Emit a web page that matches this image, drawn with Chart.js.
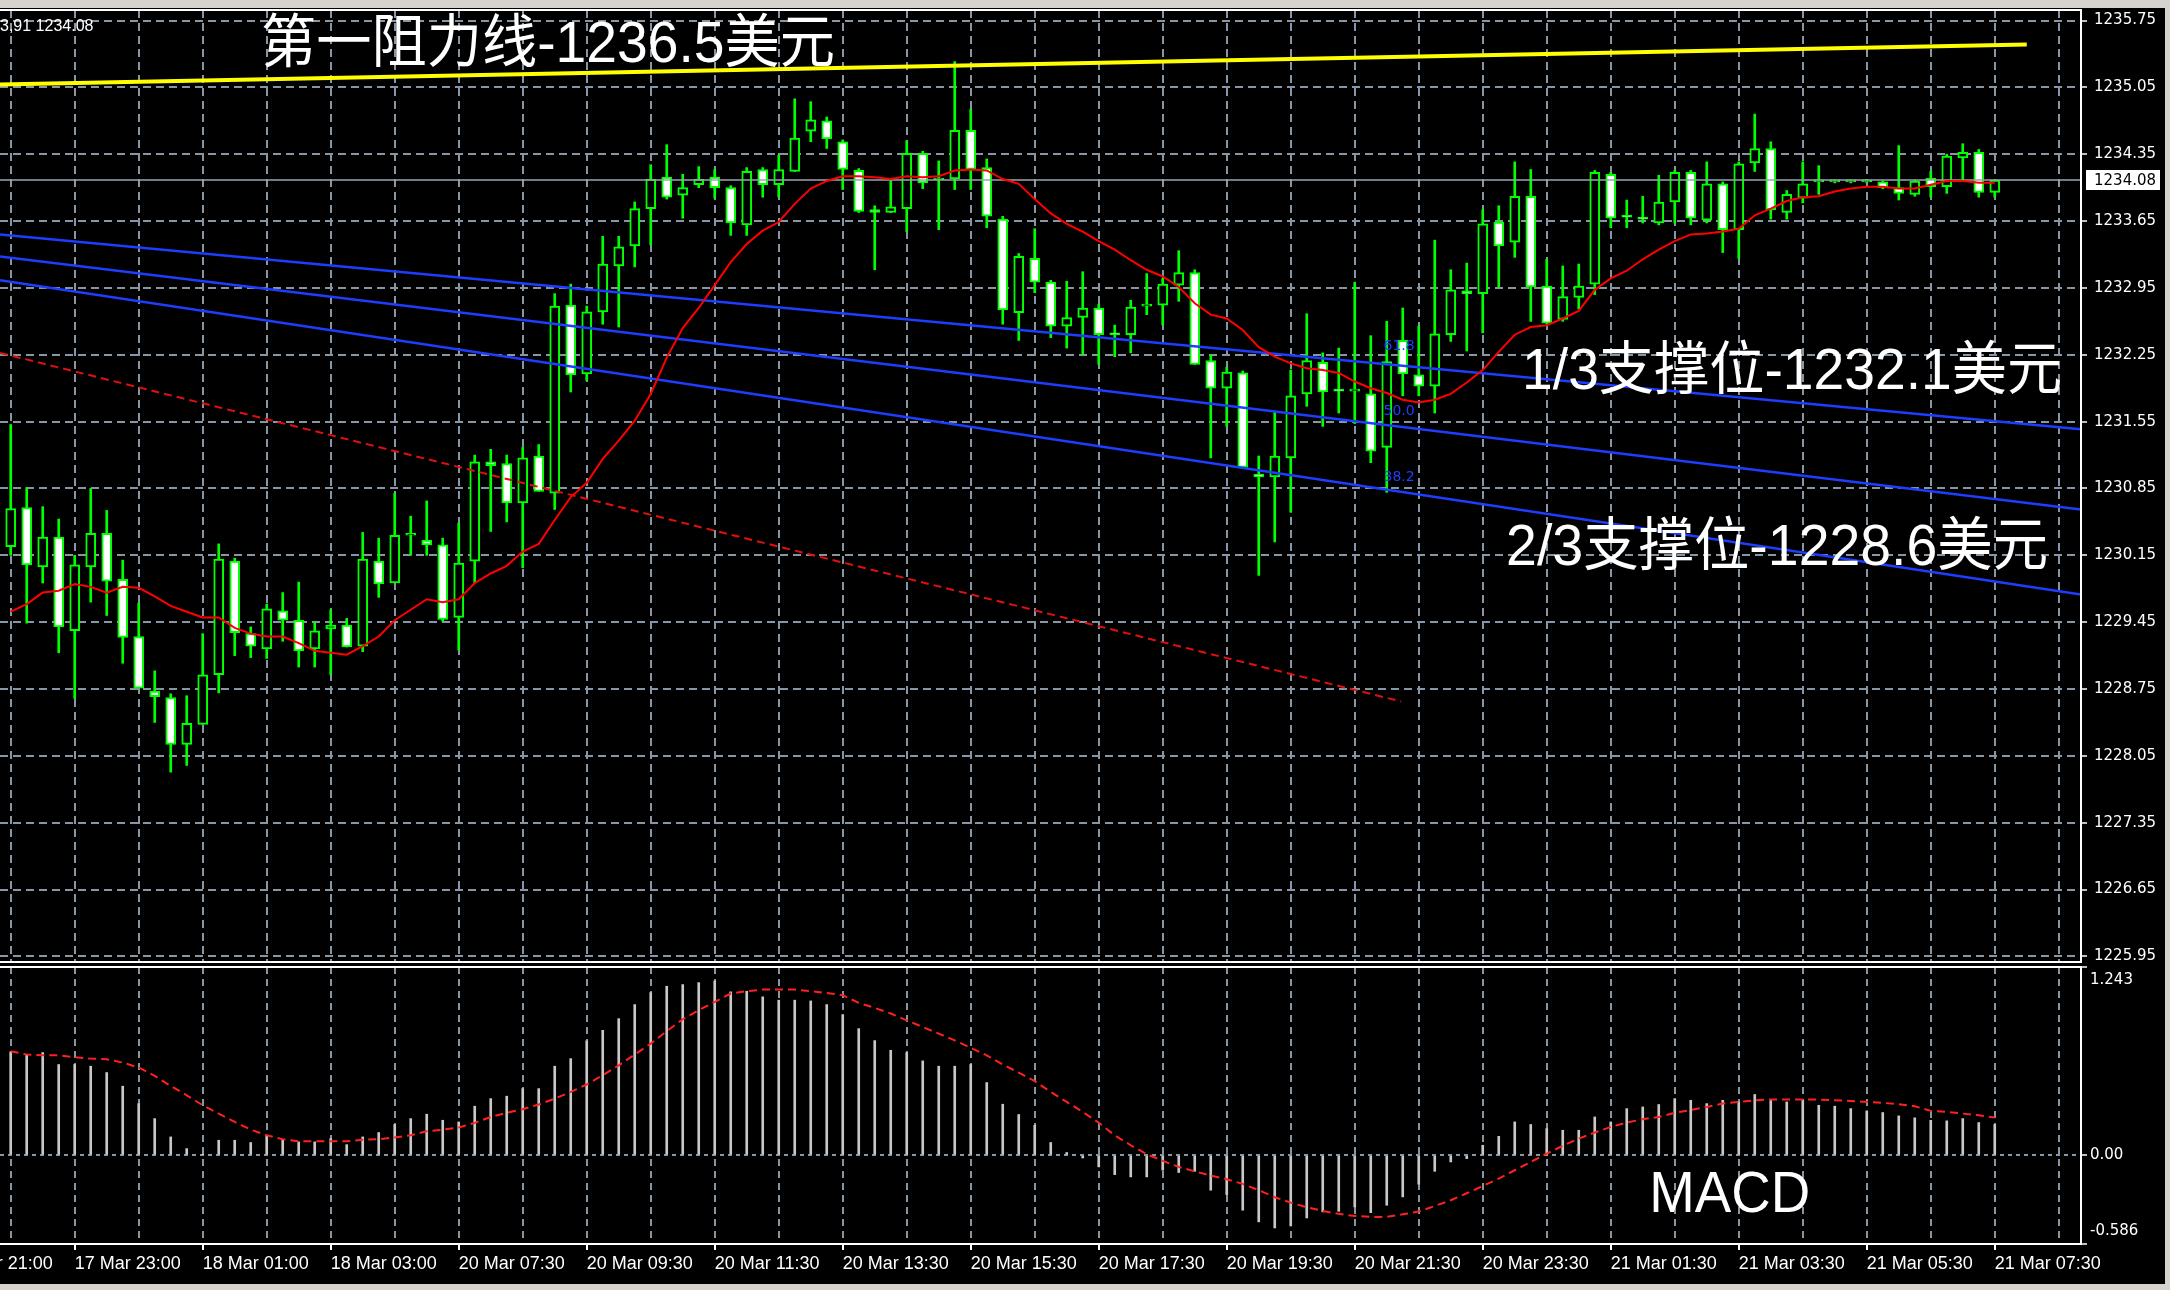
<!DOCTYPE html>
<html>
<head>
<meta charset="utf-8">
<script src="https://cdn.jsdelivr.net/npm/chart.js@4.4.1/dist/chart.umd.min.js"></script>
<style>
  body { margin: 0; background: #d6d3ce; width: 2170px; height: 1290px; overflow: hidden; position: relative; }
  #bg { position: absolute; left: 0; top: 8px; width: 2165px; height: 1276px; background: #000; }
  canvas { position: absolute; left: 0; }
  #priceChart { top: 0; }
  #macdChart { top: 962px; }
</style>
</head>
<body>
<div id="bg"></div>
<canvas id="priceChart" width="2170" height="966"></canvas>
<canvas id="macdChart" width="2170" height="328"></canvas>
<script>
// 15 min XAUUSD bars
var opens = [1230.24,1230.65,1230.03,1230.34,1229.36,1230.03,1230.38,1229.90,1229.30,1228.73,
  1228.66,1228.17,1228.38,1228.90,1230.09,1229.33,1229.17,1229.57,1229.47,1229.17,
  1229.38,1229.42,1229.20,1230.09,1229.86,1230.36,1230.31,1230.26,1229.50,1230.09,
  1231.13,1231.11,1230.70,1231.19,1230.80,1232.77,1232.05,1232.70,1233.18,1233.39,
  1233.78,1234.11,1233.92,1234.03,1234.11,1234.00,1233.61,1234.19,1234.03,1234.17,
  1234.59,1234.70,1234.48,1234.18,1233.77,1233.74,1233.78,1234.36,1234.08,1234.09,
  1234.60,1234.21,1233.67,1232.69,1233.26,1233.01,1232.55,1232.64,1232.74,1232.47,
  1232.46,1232.76,1232.77,1232.98,1233.11,1232.19,1231.90,1232.06,1231.00,1230.97,
  1231.17,1231.84,1232.17,1231.88,1231.87,1231.84,1231.28,1232.40,1232.04,1231.92,
  1232.46,1232.92,1232.89,1233.64,1233.43,1233.91,1232.97,1232.62,1232.85,1232.99,
  1234.14,1233.70,1233.68,1233.63,1233.85,1234.16,1233.66,1234.04,1233.56,1234.26,
  1234.41,1233.74,1233.89,1234.06,1234.06,1234.06,1234.06,1234.06,1234.00,1233.93,
  1234.10,1234.01,1234.31,1234.37,1233.95];
var highs = [1231.52,1230.86,1230.66,1230.53,1230.15,1230.85,1230.62,1230.10,1229.65,1228.94,
  1228.70,1228.68,1229.33,1230.27,1230.12,1229.40,1229.64,1229.76,1229.87,1229.45,
  1229.58,1229.49,1230.39,1230.33,1230.80,1230.56,1230.72,1230.33,1230.49,1231.20,
  1231.26,1231.20,1231.28,1231.31,1232.89,1232.99,1232.76,1233.49,1233.49,1233.85,
  1234.24,1234.45,1234.14,1234.22,1234.19,1234.02,1234.21,1234.21,1234.34,1234.93,
  1234.90,1234.74,1234.50,1234.20,1233.81,1234.07,1234.49,1234.38,1234.28,1235.32,
  1234.82,1234.30,1233.70,1233.31,1233.57,1233.03,1233.02,1233.12,1232.78,1232.56,
  1232.82,1233.10,1233.05,1233.34,1233.14,1232.25,1232.12,1232.08,1231.19,1231.66,
  1232.09,1232.68,1232.27,1232.32,1233.01,1232.45,1232.60,1232.74,1232.55,1233.45,
  1233.14,1233.21,1233.77,1233.81,1234.27,1234.19,1233.25,1233.18,1233.20,1234.18,
  1234.16,1233.87,1233.91,1234.13,1234.18,1234.18,1234.27,1234.06,1234.27,1234.77,
  1234.48,1233.97,1234.27,1234.23,1234.08,1234.08,1234.08,1234.07,1234.44,1234.08,
  1234.17,1234.35,1234.46,1234.40,1234.08];
var lows = [1230.15,1229.44,1229.86,1229.13,1228.65,1229.66,1229.52,1229.02,1228.76,1228.40,
  1227.88,1227.95,1228.38,1228.71,1229.10,1229.08,1229.07,1229.25,1228.98,1228.98,
  1228.90,1229.19,1229.14,1229.71,1229.86,1230.15,1230.15,1229.46,1229.16,1229.86,
  1230.40,1230.50,1230.02,1230.82,1230.63,1231.86,1231.98,1232.57,1232.54,1233.17,
  1233.40,1233.88,1233.68,1234.00,1233.89,1233.50,1233.50,1233.90,1233.90,1234.17,
  1234.48,1234.41,1233.98,1233.74,1233.14,1233.74,1233.54,1233.99,1233.56,1233.98,
  1233.98,1233.58,1232.57,1232.40,1232.90,1232.43,1232.32,1232.25,1232.15,1232.23,
  1232.27,1232.67,1232.56,1232.81,1232.15,1231.17,1231.50,1231.07,1229.94,1230.29,
  1230.60,1231.71,1231.50,1231.64,1231.53,1231.12,1230.81,1231.82,1231.82,1231.64,
  1232.39,1232.29,1232.48,1232.96,1233.27,1232.60,1232.58,1232.60,1232.73,1232.88,
  1233.58,1233.58,1233.63,1233.61,1233.63,1233.61,1233.63,1233.32,1233.26,1234.17,
  1233.67,1233.67,1233.84,1233.93,1234.05,1234.05,1234.05,1233.99,1233.87,1233.91,
  1233.90,1233.94,1234.07,1233.90,1233.90];
var closes = [1230.64,1230.05,1230.34,1229.40,1230.05,1230.38,1229.88,1229.29,1228.76,1228.67,
  1228.17,1228.39,1228.90,1230.11,1229.34,1229.20,1229.59,1229.47,1229.15,1229.36,
  1229.42,1229.19,1230.11,1229.85,1230.36,1230.38,1230.26,1229.48,1230.07,1231.13,
  1231.09,1230.70,1231.17,1230.82,1232.76,1232.04,1232.70,1233.20,1233.38,1233.78,
  1234.09,1233.90,1234.00,1234.09,1234.00,1233.63,1234.17,1234.03,1234.19,1234.52,
  1234.71,1234.51,1234.19,1233.75,1233.74,1233.80,1234.36,1234.05,1234.10,1234.60,
  1234.19,1233.70,1232.72,1233.28,1233.01,1232.55,1232.64,1232.74,1232.46,1232.46,
  1232.75,1232.77,1232.99,1233.11,1232.15,1231.90,1232.07,1231.07,1230.97,1231.19,
  1231.82,1232.19,1231.86,1231.87,1231.88,1231.24,1232.18,1232.05,1231.92,1232.47,
  1232.93,1232.89,1233.62,1233.39,1233.91,1232.96,1232.58,1232.86,1232.97,1234.16,
  1233.68,1233.69,1233.67,1233.85,1234.16,1233.68,1234.04,1233.56,1234.25,1234.41,
  1233.77,1233.93,1234.04,1234.07,1234.07,1234.07,1234.07,1234.00,1233.94,1234.07,
  1234.01,1234.33,1234.37,1233.95,1234.08];
// red moving average
var maLine = [1229.56,1229.64,1229.76,1229.78,1229.85,1229.82,1229.76,1229.82,1229.81,1229.72,
  1229.62,1229.56,1229.50,1229.50,1229.39,1229.33,1229.30,1229.30,1229.23,1229.15,
  1229.13,1229.11,1229.20,1229.30,1229.47,1229.58,1229.69,1229.66,1229.69,1229.86,
  1229.96,1230.04,1230.19,1230.27,1230.52,1230.76,1230.91,1231.16,1231.35,1231.56,
  1231.84,1232.22,1232.53,1232.74,1232.98,1233.22,1233.41,1233.55,1233.64,1233.83,
  1233.99,1234.07,1234.12,1234.12,1234.11,1234.09,1234.12,1234.11,1234.12,1234.18,
  1234.19,1234.18,1234.09,1234.04,1233.88,1233.73,1233.62,1233.54,1233.44,1233.35,
  1233.24,1233.14,1233.07,1232.96,1232.79,1232.67,1232.63,1232.51,1232.33,1232.23,
  1232.16,1232.11,1232.09,1232.06,1231.97,1231.90,1231.85,1231.78,1231.75,1231.78,
  1231.84,1231.96,1232.09,1232.28,1232.46,1232.54,1232.56,1232.63,1232.71,1232.93,
  1233.05,1233.13,1233.25,1233.35,1233.44,1233.51,1233.52,1233.54,1233.57,1233.71,
  1233.78,1233.86,1233.90,1233.91,1233.96,1233.99,1234.01,1234.01,1233.99,1233.99,
  1234.03,1234.07,1234.07,1234.05,1234.05];
var macdHist = [0.682,0.665,0.678,0.599,0.599,0.588,0.546,0.456,0.341,0.242,
  0.121,0.044,0.004,0.099,0.099,0.084,0.132,0.099,0.088,0.088,
  0.110,0.070,0.121,0.150,0.203,0.242,0.271,0.231,0.220,0.324,
  0.374,0.390,0.440,0.440,0.588,0.638,0.755,0.825,0.902,0.995,
  1.074,1.116,1.127,1.140,1.151,1.079,1.083,1.046,1.024,1.024,
  1.019,0.995,0.929,0.836,0.757,0.693,0.678,0.623,0.588,0.588,
  0.599,0.480,0.337,0.269,0.198,0.084,0.018,-0.018,-0.077,-0.128,
  -0.143,-0.143,-0.099,-0.114,-0.106,-0.231,-0.260,-0.363,-0.440,-0.480,
  -0.467,-0.414,-0.374,-0.370,-0.341,-0.379,-0.330,-0.275,-0.191,-0.106,
  -0.044,-0.022,0.066,0.125,0.220,0.203,0.176,0.165,0.165,0.253,
  0.220,0.308,0.319,0.335,0.374,0.363,0.341,0.363,0.352,0.401,
  0.363,0.352,0.363,0.330,0.324,0.308,0.293,0.282,0.260,0.247,
  0.231,0.227,0.242,0.216,0.203];
var macdSignal = [0.687,0.665,0.660,0.660,0.647,0.638,0.634,0.612,0.579,0.524,
  0.458,0.396,0.330,0.275,0.220,0.169,0.132,0.106,0.092,0.092,
  0.092,0.092,0.103,0.106,0.117,0.132,0.158,0.169,0.183,0.214,
  0.253,0.280,0.304,0.335,0.374,0.418,0.467,0.528,0.594,0.665,
  0.737,0.819,0.898,0.958,1.013,1.068,1.083,1.094,1.094,1.094,
  1.083,1.072,1.057,1.006,0.973,0.936,0.891,0.847,0.803,0.759,
  0.709,0.660,0.599,0.546,0.489,0.418,0.352,0.286,0.215,0.132,
  0.066,0.007,-0.037,-0.077,-0.106,-0.134,-0.158,-0.189,-0.231,-0.277,
  -0.313,-0.343,-0.368,-0.387,-0.401,-0.407,-0.407,-0.390,-0.372,-0.335,
  -0.297,-0.251,-0.203,-0.154,-0.099,-0.044,0.011,0.062,0.110,0.150,
  0.187,0.216,0.238,0.253,0.280,0.299,0.319,0.341,0.352,0.363,
  0.368,0.368,0.368,0.368,0.363,0.359,0.352,0.346,0.337,0.324,
  0.293,0.286,0.275,0.264,0.249];

var priceTicks = [1225.95,1226.65,1227.35,1228.05,1228.75,1229.45,1230.15,1230.85,
  1231.55,1232.25,1232.95,1233.65,1234.35,1235.05,1235.75];
var macdTicks = [-0.586, 0, 1.243];
var xLabelBars = [-4,4,12,20,28,36,44,52,60,68,76,84,92,100,108,116,124];
var xLabels = ['17 Mar 21:00','17 Mar 23:00','18 Mar 01:00','18 Mar 03:00','20 Mar 07:30',
  '20 Mar 09:30','20 Mar 11:30','20 Mar 13:30','20 Mar 15:30','20 Mar 17:30','20 Mar 19:30',
  '20 Mar 21:30','20 Mar 23:30','21 Mar 01:30','21 Mar 03:30','21 Mar 05:30','21 Mar 07:30'];
var gridBars = [];
for (var g = 0; g <= 128; g += 4) gridBars.push(g);

// drawn objects: bid line, yellow resistance, blue channel, red dashed trendline
var bidPrice = 1234.08;
var lineBars = [-0.669, 129.39];
var resistBars = [-0.669, 126];
var resistPrices = [1235.08, 1235.50];
var channelTop = [1233.51, 1231.47];
var channelMid = [1233.28, 1230.63];
var channelLow = [1233.03, 1229.74];
var trendBars = [-0.669, 86.9];
var trendPrices = [1232.27, 1228.62];
var fiboLabels = ['61.8', '50.0', '38.2'];
var fiboPrices = [1232.34, 1231.66, 1230.97];

var noteTexts = ['第一阻力线-1236.5美元', '1/3支撑位-1232.1美元', '2/3支撑位-1228.6美元'];
var noteBars = [15.64, 94.46, 93.46];
var notePrices = [1235.32, 1231.89, 1230.05];
var noteWidths = [574, 540, 542];

var xMin = -0.669, xMax = 129.39;
var gridColor = '#8796a5';
var bull = '#000000', bear = '#ffffff', candleLine = '#00ff00';

Chart.defaults.font.family = "'DejaVu Sans'";
Chart.defaults.color = '#fff';

function pts(xs, ys) {
  return xs.map(function (x, i) { return { x: x, y: ys[i] }; });
}
var idx = closes.map(function (c, i) { return i; });

// keep the plot area fixed: no padding for edge labels
function noPad(s) {
  s.paddingTop = 0; s.paddingBottom = 0; s.paddingLeft = 0; s.paddingRight = 0;
}

var frame = {
  id: 'frame',
  afterDraw: function (chart) {
    var a = chart.chartArea, c = chart.ctx;
    c.save();
    c.strokeStyle = '#fff';
    c.lineWidth = 2;
    c.beginPath();
    c.moveTo(0, a.top); c.lineTo(a.right, a.top);
    c.lineTo(a.right, a.bottom); c.lineTo(0, a.bottom);
    c.stroke();
    c.restore();
  }
};

var priceNotes = {
  id: 'priceNotes',
  afterDraw: function (chart) {
    var c = chart.ctx, x = chart.scales.x, y = chart.scales.y, a = chart.chartArea;
    c.save();
    c.fillStyle = '#fff';
    c.textBaseline = 'alphabetic';
    c.font = "58px 'Liberation Sans', 'Noto Sans CJK SC'";
    noteTexts.forEach(function (t, k) {
      c.fillText(t, x.getPixelForValue(noteBars[k]), y.getPixelForValue(notePrices[k]), noteWidths[k]);
    });
    c.fillStyle = '#1f3fff';
    c.font = "14px 'DejaVu Sans'";
    c.textBaseline = 'middle';
    fiboLabels.forEach(function (t, k) {
      c.fillText(t, x.getPixelForValue(85.8), y.getPixelForValue(fiboPrices[k]));
    });
    c.fillStyle = '#fff';
    c.font = "16px 'Liberation Sans'";
    c.fillText('3,91 1234.08', a.left, a.top + 17);
    var py = y.getPixelForValue(bidPrice);
    c.fillRect(a.right + 5, py - 10, 74, 20);
    c.fillStyle = '#000';
    c.font = "15px 'DejaVu Sans'";
    c.fillText(bidPrice.toFixed(2), a.right + 13, py + 1);
    c.restore();
  }
};

var macdNotes = {
  id: 'macdNotes',
  afterDraw: function (chart) {
    var c = chart.ctx, x = chart.scales.x, y = chart.scales.y, a = chart.chartArea;
    c.save();
    c.fillStyle = '#fff';
    c.font = "15px 'DejaVu Sans'";
    c.textBaseline = 'top';
    c.fillText('1.243', a.right + 9, a.top + 6);
    c.textBaseline = 'middle';
    c.fillText('0.00', a.right + 9, y.getPixelForValue(0));
    c.textBaseline = 'bottom';
    c.fillText('-0.586', a.right + 9, a.bottom - 5);
    c.font = "58px 'Liberation Sans'";
    c.textBaseline = 'alphabetic';
    c.fillText('MACD', x.getPixelForValue(102.4), y.getPixelForValue(-0.375), 161);
    c.restore();
  }
};

var priceChart = new Chart(document.getElementById('priceChart'), {
  type: 'bar',
  data: {
    datasets: [
      { type: 'line', data: pts(idx, maLine), borderColor: '#ff0000', borderWidth: 2, pointRadius: 0, order: 1 },
      { type: 'line', data: pts(lineBars, channelTop), borderColor: '#1d3dff', borderWidth: 2.5, pointRadius: 0, order: 2 },
      { type: 'line', data: pts(lineBars, channelMid), borderColor: '#1d3dff', borderWidth: 2.5, pointRadius: 0, order: 2 },
      { type: 'line', data: pts(lineBars, channelLow), borderColor: '#1d3dff', borderWidth: 2.5, pointRadius: 0, order: 2 },
      { type: 'line', data: pts(trendBars, trendPrices), borderColor: '#e01010', borderWidth: 2, borderDash: [8, 5], pointRadius: 0, order: 3 },
      { type: 'line', data: pts(resistBars, resistPrices), borderColor: '#ffff00', borderWidth: 4, pointRadius: 0, order: 4 },
      { type: 'line', data: pts(lineBars, [bidPrice, bidPrice]), borderColor: '#9aa5b1', borderWidth: 1.5, pointRadius: 0, order: 5 },
      {
        data: idx.map(function (i) { return { x: i, y: [opens[i], closes[i]] }; }),
        backgroundColor: idx.map(function (i) { return closes[i] > opens[i] ? bull : bear; }),
        borderColor: candleLine, borderWidth: 2, borderSkipped: false,
        barThickness: 10, minBarLength: 2, grouped: false, order: 6
      },
      {
        data: idx.map(function (i) { return { x: i, y: [lows[i], highs[i]] }; }),
        backgroundColor: candleLine, barThickness: 2, grouped: false, order: 7
      }
    ]
  },
  options: {
    responsive: false,
    animation: false,
    layout: { padding: { top: 10, bottom: 4, left: 0, right: 0 }, autoPadding: false },
    plugins: { legend: { display: false }, tooltip: { enabled: false } },
    scales: {
      x: {
        type: 'linear', min: xMin, max: xMax, offset: false,
        afterBuildTicks: function (s) { s.ticks = gridBars.map(function (v) { return { value: v }; }); },
        afterFit: function (s) { s.height = 0; noPad(s); },
        ticks: { display: false },
        grid: { color: gridColor, lineWidth: 2, drawTicks: false, offset: false },
        border: { display: false, dash: [8, 5] }
      },
      y: {
        position: 'right', min: 1225.892, max: 1235.86,
        afterBuildTicks: function (s) { s.ticks = priceTicks.map(function (v) { return { value: v }; }); },
        afterFit: function (s) { s.width = 89; noPad(s); },
        ticks: {
          autoSkip: false, padding: 7, color: '#fff',
          font: { family: "'DejaVu Sans'", size: 15 },
          callback: function (v) { return v.toFixed(2); }
        },
        grid: { color: gridColor, lineWidth: 2, tickColor: '#fff', tickLength: 6, tickWidth: 1.5 },
        border: { display: false, dash: [8, 5] }
      }
    }
  },
  plugins: [frame, priceNotes]
});

var macdChart = new Chart(document.getElementById('macdChart'), {
  type: 'bar',
  data: {
    datasets: [
      { type: 'line', data: pts(idx, macdSignal), borderColor: '#ff2020', borderWidth: 2, borderDash: [8, 5], pointRadius: 0, order: 1 },
      { data: pts(idx, macdHist), backgroundColor: '#c8c8c8', barThickness: 2, grouped: false, order: 2 }
    ]
  },
  options: {
    responsive: false,
    animation: false,
    layout: { padding: { top: 5, bottom: 0, left: 0, right: 0 }, autoPadding: false },
    plugins: { legend: { display: false }, tooltip: { enabled: false } },
    scales: {
      x: {
        type: 'linear', min: xMin, max: xMax, offset: false,
        afterBuildTicks: function (s) { s.ticks = [-4].concat(gridBars).map(function (v) { return { value: v }; }); },
        afterFit: function (s) { s.height = 46; noPad(s); },
        ticks: {
          autoSkip: false, maxRotation: 0, minRotation: 0, align: 'start', padding: 3, color: '#fff',
          font: { family: "'Liberation Sans'", size: 18 },
          callback: function (v) { var k = xLabelBars.indexOf(v); return k < 0 ? '' : xLabels[k]; }
        },
        grid: {
          color: gridColor, lineWidth: 2, offset: false, tickLength: 6, tickWidth: 2,
          tickColor: function (ctx) { return xLabelBars.indexOf(ctx.tick.value) >= 0 ? '#fff' : 'rgba(0,0,0,0)'; }
        },
        border: { display: false, dash: [7, 5] }
      },
      y: {
        position: 'right', min: macdTicks[0], max: macdTicks[2],
        afterBuildTicks: function (s) { s.ticks = macdTicks.map(function (v) { return { value: v }; }); },
        afterFit: function (s) { s.width = 89; noPad(s); },
        ticks: { display: false },
        grid: {
          lineWidth: 2, tickColor: '#fff', tickLength: 6, tickWidth: 1.5,
          color: function (ctx) { return ctx.tick && ctx.tick.value === 0 ? gridColor : 'rgba(0,0,0,0)'; }
        },
        border: { display: false, dash: [4, 4] }
      }
    }
  },
  plugins: [frame, macdNotes]
});
</script>
</body>
</html>
